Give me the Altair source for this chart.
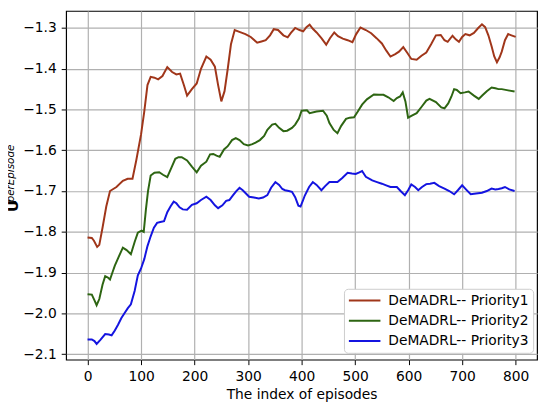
import altair as alt
import pandas as pd

# ---- data ----
series_names = ["DeMADRL-- Priority1", "DeMADRL-- Priority2", "DeMADRL-- Priority3"]
series_colors = ["#a0361a", "#2d6512", "#1414e0"]

p1_x = [0, 8, 12, 18, 22, 28, 35, 42, 54, 66, 75, 84, 91, 100, 106, 112, 118, 125, 132, 140,
        149, 158, 166, 173, 180, 186, 195, 204, 212, 222, 230, 238, 244, 250, 256, 262, 268, 275,
        285, 295, 305, 317, 325, 333, 341, 348, 356, 366, 374, 380, 388, 396, 403, 409, 415, 421,
        428, 437, 446, 453, 461, 468, 477, 486, 495, 502, 510, 520, 530, 540, 550, 558, 566, 575,
        582, 590, 598, 605, 615, 624, 633, 642, 651, 660, 667, 673, 682, 688, 694, 700, 706, 714,
        722, 730, 737, 743, 749, 755, 760, 765, 770, 774, 780, 786, 792, 800]
p1_y = [-1.814, -1.815, -1.822, -1.837, -1.832, -1.790, -1.738, -1.700, -1.690, -1.675, -1.670,
        -1.670, -1.625, -1.561, -1.505, -1.440, -1.420, -1.422, -1.426, -1.418, -1.396, -1.408,
        -1.414, -1.412, -1.440, -1.466, -1.450, -1.436, -1.400, -1.370, -1.378, -1.395, -1.440,
        -1.480, -1.455, -1.400, -1.340, -1.305, -1.310, -1.315, -1.322, -1.336, -1.333, -1.330,
        -1.318, -1.303, -1.305, -1.318, -1.323, -1.312, -1.300, -1.305, -1.308, -1.298, -1.292,
        -1.302, -1.311, -1.325, -1.341, -1.325, -1.311, -1.320, -1.326, -1.330, -1.335, -1.315,
        -1.299, -1.305, -1.313, -1.325, -1.338, -1.355, -1.370, -1.364, -1.358, -1.347, -1.362,
        -1.376, -1.378, -1.368, -1.360, -1.340, -1.318, -1.317, -1.330, -1.334, -1.319, -1.328,
        -1.334, -1.322, -1.315, -1.318, -1.312, -1.300, -1.291, -1.298, -1.318, -1.345, -1.370,
        -1.384, -1.372, -1.358, -1.330, -1.315, -1.318, -1.322]

p2_x = [0, 8, 13, 17, 22, 28, 33, 38, 42, 47, 51, 58, 66, 73, 81, 88, 94, 101, 105, 109, 113,
        118, 125, 134, 141, 149, 157, 164, 170, 176, 186, 195, 204, 212, 222, 229, 235, 241, 247,
        255, 262, 270, 277, 284, 292, 300, 308, 314, 322, 330, 336, 345, 351, 358, 366, 373, 382,
        388, 395, 400, 410, 415, 428, 440, 447, 452, 460, 467, 474, 483, 490, 498, 505, 513, 522,
        535, 545, 553, 562, 572, 578, 584, 589, 594, 599, 606, 615, 625, 633, 639, 651, 661, 667,
        674, 680, 685, 690, 697, 705, 712, 722, 731, 738, 746, 755, 762, 768, 774, 786, 798]
p2_y = [-1.953, -1.954, -1.968, -1.980, -1.965, -1.930, -1.909, -1.912, -1.917, -1.898, -1.883,
        -1.862, -1.839, -1.845, -1.855, -1.825, -1.802, -1.797, -1.800, -1.746, -1.700, -1.662,
        -1.655, -1.654, -1.660, -1.666, -1.642, -1.621, -1.617, -1.617, -1.625, -1.640, -1.654,
        -1.638, -1.628, -1.610, -1.609, -1.613, -1.616, -1.598, -1.590, -1.575, -1.570, -1.575,
        -1.585, -1.588, -1.585, -1.581, -1.575, -1.565, -1.550, -1.537, -1.535, -1.545, -1.553,
        -1.552, -1.545, -1.537, -1.522, -1.503, -1.502, -1.509, -1.505, -1.503, -1.515, -1.533,
        -1.550, -1.558, -1.540, -1.523, -1.520, -1.519, -1.505, -1.488, -1.475, -1.463, -1.464,
        -1.464, -1.470, -1.479, -1.472, -1.468, -1.458, -1.480, -1.520, -1.515, -1.509, -1.492,
        -1.478, -1.474, -1.482, -1.495, -1.497, -1.485, -1.468, -1.450, -1.452, -1.460, -1.458,
        -1.456, -1.466, -1.474, -1.465, -1.455, -1.446, -1.448, -1.450, -1.450, -1.453, -1.456]

p3_x = [0, 8, 13, 17, 24, 33, 40, 45, 51, 57, 63, 69, 75, 81, 88, 94, 100, 106, 112, 118, 124,
        130, 136, 143, 149, 155, 161, 166, 172, 178, 186, 195, 204, 212, 222, 230, 238, 244, 252,
        259, 265, 272, 278, 284, 290, 296, 302, 311, 320, 328, 336, 343, 351, 358, 364, 369, 376,
        382, 388, 394, 398, 402, 406, 414, 421, 428, 437, 444, 452, 460, 467, 476, 486, 494, 501,
        508, 513, 520, 532, 541, 550, 558, 566, 572, 578, 585, 593, 599, 605, 612, 618, 625, 633,
        640, 648, 657, 667, 676, 685, 692, 700, 708, 716, 726, 737, 746, 755, 762, 768, 774, 780,
        788, 798]
p3_y = [-2.064, -2.064, -2.068, -2.075, -2.065, -2.051, -2.052, -2.054, -2.042, -2.028, -2.012,
        -2.000, -1.988, -1.978, -1.945, -1.907, -1.890, -1.867, -1.835, -1.811, -1.790, -1.778,
        -1.776, -1.774, -1.752, -1.738, -1.726, -1.730, -1.740, -1.745, -1.746, -1.734, -1.730,
        -1.722, -1.714, -1.722, -1.735, -1.742, -1.735, -1.724, -1.722, -1.710, -1.700, -1.692,
        -1.698, -1.706, -1.714, -1.716, -1.718, -1.716, -1.710, -1.692, -1.678, -1.685, -1.695,
        -1.698, -1.700, -1.702, -1.715, -1.736, -1.738, -1.725, -1.711, -1.690, -1.678, -1.685,
        -1.698, -1.688, -1.678, -1.678, -1.678, -1.668, -1.655, -1.657, -1.658, -1.654, -1.651,
        -1.665, -1.674, -1.678, -1.682, -1.686, -1.690, -1.690, -1.690, -1.700, -1.710, -1.698,
        -1.684, -1.690, -1.698, -1.690, -1.683, -1.682, -1.680, -1.688, -1.694, -1.700, -1.708,
        -1.698, -1.686, -1.697, -1.708, -1.706, -1.704, -1.700, -1.694, -1.696, -1.695, -1.693,
        -1.690, -1.696, -1.700]

x_ticks = [0, 100, 200, 300, 400, 500, 600, 700, 800]
y_ticks = [-2.1, -2.0, -1.9, -1.8, -1.7, -1.6, -1.5, -1.4, -1.3]
x_title = "The index of episodes"
y_title_main = "U"
y_title_sup = "perEpisode"

rows = []
for name, xs, ys in zip(series_names, [p1_x, p2_x, p3_x], [p1_y, p2_y, p3_y]):
    for xv, yv in zip(xs, ys):
        rows.append({"episode": xv, "value": yv, "series": name})
df = pd.DataFrame(rows)

FONT = "DejaVu Sans"

lines = alt.Chart(df).mark_line(strokeWidth=2, clip=True).encode(
    x=alt.X("episode:Q",
            scale=alt.Scale(domain=[-40, 840], nice=False, zero=False),
            axis=alt.Axis(values=x_ticks, title=x_title, format="d")),
    y=alt.Y("value:Q",
            scale=alt.Scale(domain=[-2.1138, -1.2582], nice=False, zero=False),
            axis=alt.Axis(values=y_ticks, title=None, format=".1f",
                          labelExpr="replace(datum.label, '-', '\u2212')")),
    color=alt.Color("series:N",
                    scale=alt.Scale(domain=series_names, range=series_colors),
                    legend=alt.Legend(orient="none", legendX=282, legendY=282, title=None,
                                      symbolType="stroke", symbolSize=1024,
                                      symbolStrokeWidth=2, labelFontSize=14, labelFont=FONT,
                                      labelColor="black", strokeColor="#cccccc",
                                      fillColor="white", padding=4, cornerRadius=4,
                                      clipHeight=16, rowPadding=4.5, labelOffset=7)),
    order="episode:Q",
)

t_main = alt.Chart(pd.DataFrame({"t": [y_title_main]})).mark_text(
    angle=270, font=FONT, fontSize=15, fontWeight="bold", align="center",
    baseline="middle", color="black"
).encode(text="t:N", x=alt.value(-54), y=alt.value(198))

t_sup = alt.Chart(pd.DataFrame({"t": [y_title_sup]})).mark_text(
    angle=270, font=FONT, fontSize=10.5, fontStyle="italic", align="center",
    baseline="middle", color="black"
).encode(text="t:N", x=alt.value(-56), y=alt.value(165))

chart = alt.layer(lines, t_main, t_sup).properties(
    width=478, height=354,
    autosize=alt.AutoSizeParams(type="none"),
    padding={"left": 59, "top": 0, "right": 5, "bottom": 45},
).configure_view(
    stroke="black", strokeWidth=1.2
).configure_axis(
    domain=False, grid=True, gridColor="#b0b0b0", gridWidth=1.2,
    tickColor="black", tickSize=5, tickWidth=1,
    labelFont=FONT, labelFontSize=14, labelColor="black", labelPadding=5,
    titleFont=FONT, titleFontSize=14, titleFontWeight="normal", titleColor="black",
    titlePadding=4,
)

chart.save("out.html", embed_options={"renderer": "svg", "actions": False})
